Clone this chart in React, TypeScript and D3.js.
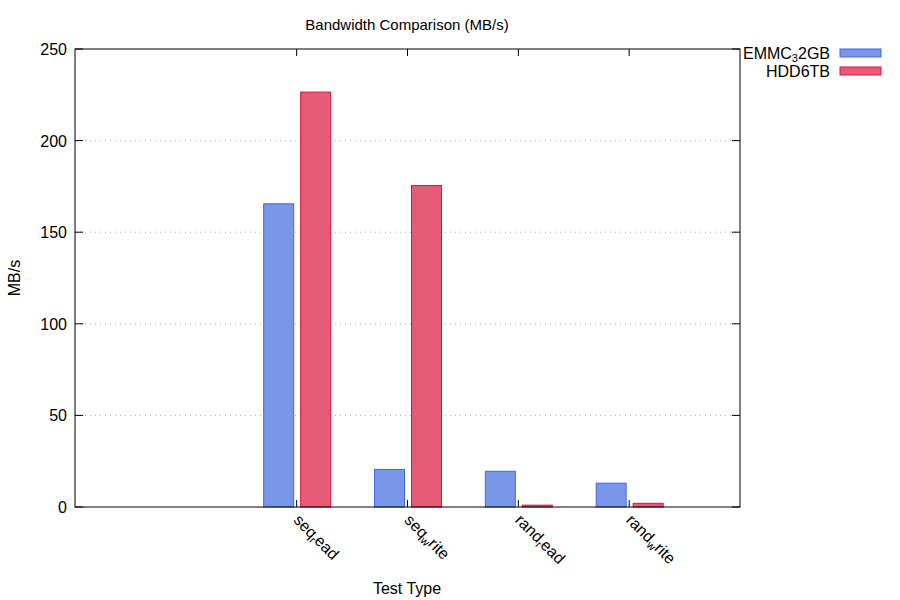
import React from "react";
import * as d3 from "d3";

// [base, subscript, rest]
const categories: [string, string, string][] = [
  ["seq", "r", "ead"],
  ["seq", "w", "rite"],
  ["rand", "r", "ead"],
  ["rand", "w", "rite"],
];
const emmcValues = [165.5, 20.5, 19.5, 13];
const hddValues = [226.5, 175.5, 1, 2];
const yTicks = [0, 50, 100, 150, 200, 250];

const W = 900;
const H = 600;
const m = { left: 75, right: 740, top: 49, bottom: 507 };
const font = "Liberation Sans, Arial, sans-serif";
const fs = 16;

function Sub({ text }: { text: string }) {
  return (
    <>
      <tspan dy={3} fontSize={11}>{text}</tspan>
      <tspan dy={-3}>{"\u200b"}</tspan>
    </>
  );
}

export default function App() {
  const x = d3.scaleLinear().domain([-2, 4]).range([m.left, m.right]);
  const y = d3.scaleLinear().domain([0, 250]).range([m.bottom, m.top]);
  const bw = 30;
  const series = [
    { name: "EMMC", sub: "3", tail: "2GB", values: emmcValues, fill: "#7a96e9", stroke: "#4169e1", off: -33 },
    { name: "HDD6TB", sub: "", tail: "", values: hddValues, fill: "#e55c77", stroke: "#dc143c", off: 4 },
  ];
  return (
    <svg width={W} height={H} style={{ position: "absolute", left: 0, top: 0, background: "#fff" }} fontFamily={font}>
      <text x={407} y={30} textAnchor="middle" fontSize={fs - 1}>Bandwidth Comparison (MB/s)</text>
      {yTicks.map((t) => (
        <g key={t}>
          {t > 0 && t < 250 && (
            <line x1={m.left} x2={m.right} y1={y(t)} y2={y(t)} stroke="#aaa" strokeDasharray="1,4" />
          )}
          <line x1={m.left} x2={m.left + 8} y1={y(t)} y2={y(t)} stroke="#000" />
          <line x1={m.right - 8} x2={m.right} y1={y(t)} y2={y(t)} stroke="#000" />
          <text x={m.left - 8} y={y(t) + 6} textAnchor="end" fontSize={fs}>{t}</text>
        </g>
      ))}
      {series.map((s) =>
        s.values.map((v, i) => (
          <rect key={s.name + i} x={x(i) + s.off} y={y(v)} width={bw} height={m.bottom - y(v)}
            fill={s.fill} stroke={s.stroke} strokeWidth={1} />
        ))
      )}
      {categories.map((c, i) => (
        <g key={i}>
          <line x1={x(i)} x2={x(i)} y1={m.bottom} y2={m.bottom - 7} stroke="#000" />
          <line x1={x(i)} x2={x(i)} y1={m.top} y2={m.top + 7} stroke="#000" />
          <text transform={`translate(${x(i) - 4},${m.bottom + 14}) rotate(45)`} fontSize={fs}>
            {c[0]}
            <Sub text={c[1]} />
            {c[2]}
          </text>
        </g>
      ))}
      <rect x={m.left} y={m.top} width={m.right - m.left} height={m.bottom - m.top} fill="none" stroke="#000" />
      <text transform={`translate(20,${(m.top + m.bottom) / 2}) rotate(-90)`} textAnchor="middle" fontSize={fs}>MB/s</text>
      <text x={407} y={594} textAnchor="middle" fontSize={fs}>Test Type</text>
      {series.map((s, i) => (
        <g key={s.name}>
          <text x={830} y={59 + i * 18} textAnchor="end" fontSize={fs}>
            {s.name}
            {s.sub && <Sub text={s.sub} />}
            {s.tail}
          </text>
          <rect x={840} y={49 + i * 18} width={41} height={8} fill={s.fill} stroke={s.stroke} />
        </g>
      ))}
    </svg>
  );
}
